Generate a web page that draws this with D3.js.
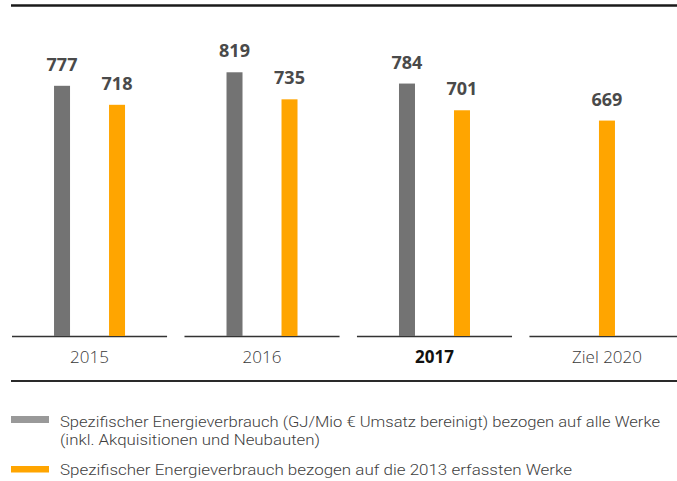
<!DOCTYPE html>
<html>
<head>
<meta charset="utf-8">
<title>Spezifischer Energieverbrauch</title>
<script src="https://cdn.jsdelivr.net/npm/d3@7"></script>
<style>
  body { margin: 0; background: #fff; }
  text { font-family: "Open Sans", "Noto Sans", sans-serif; }
  .legend text { font-family: Roboto, "Liberation Sans", sans-serif; }
</style>
</head>
<body>
<div id="chart"></div>
<script>

// data
var categories = ["2015", "2016", "2017", "Ziel 2020"];
var alleWerke = [777, 819, 784, null];   // grey series
var werke2013 = [718, 735, 701, 669];    // orange series
var legendGrey = [
  "Spezifischer Energieverbrauch (GJ/Mio € Umsatz bereinigt) bezogen auf alle Werke",
  "(inkl. Akquisitionen und Neubauten)"
];
var legendOrange = "Spezifischer Energieverbrauch bezogen auf die 2013 erfassten Werke";

var width = 677, height = 481;
var baseY = 336;

var svg = d3.select("#chart")
  .append("svg")
    .attr("width", width)
    .attr("height", height);

// x: one band per year, runs a bit past the right edge like the original
var x = d3.scaleBand()
  .domain(categories)
  .range([12, 684.5])
  .paddingInner(0.101)
  .paddingOuter(0);

var y = d3.scaleLinear()
  .domain([0, 1000])
  .range([baseY, 14]);

var barW = 16, offset = 27.5;

// top rule
svg.append("line")
  .attr("x1", 11).attr("x2", width)
  .attr("y1", 5.5).attr("y2", 5.5)
  .attr("stroke", "#1a1a1a").attr("stroke-width", 2.5);

// bottom rule
svg.append("line")
  .attr("x1", 11).attr("x2", width)
  .attr("y1", 381).attr("y2", 381)
  .attr("stroke", "#2a2a2a").attr("stroke-width", 2);

// baseline pieces, one per group
svg.append("g")
  .selectAll("line")
  .data(categories)
  .enter()
  .append("line")
    .attr("x1", function(d) { return x(d); })
    .attr("x2", function(d) { return x(d) + x.bandwidth(); })
    .attr("y1", baseY + 0.5).attr("y2", baseY + 0.5)
    .attr("stroke", "#333").attr("stroke-width", 1.6);

// build bar list
var bars = [];
categories.forEach(function(c, i) {
  var mid = x(c) + x.bandwidth() / 2;
  var both = alleWerke[i] != null;
  if (both) bars.push({cat: c, v: alleWerke[i], cx: mid - offset, color: "#737373"});
  bars.push({cat: c, v: werke2013[i], cx: both ? mid + offset : mid, color: "#ffa500"});
});

svg.append("g")
  .selectAll("rect")
  .data(bars)
  .enter()
  .append("rect")
    .attr("x", function(d) { return d.cx - barW / 2; })
    .attr("y", function(d) { return y(d.v); })
    .attr("width", barW)
    .attr("height", function(d) { return baseY - y(d.v); })
    .style("fill", function(d) { return d.color; });

// value labels
svg.append("g")
  .selectAll("text")
  .data(bars)
  .enter()
  .append("text")
    .attr("x", function(d) { return d.cx; })
    .attr("y", function(d) { return y(d.v) - 15; })
    .attr("text-anchor", "middle")
    .style("font-size", "18px")
    .style("font-weight", "700")
    .style("fill", "#4a4a4a")
    .text(function(d) { return d.v; });

// category labels
svg.append("g")
  .selectAll("text")
  .data(categories)
  .enter()
  .append("text")
    .attr("x", function(d) { return x(d) + x.bandwidth() / 2; })
    .attr("y", 363)
    .attr("text-anchor", "middle")
    .style("font-size", "17px")
    .style("font-weight", function(d) { return d == "2017" ? "700" : "300"; })
    .style("fill", function(d) { return d == "2017" ? "#111" : "#383838"; })
    .text(function(d) { return d; });

// legend
var legend = svg.append("g").attr("class", "legend");
legend.append("rect")
  .attr("x", 11).attr("y", 416).attr("width", 38).attr("height", 7)
  .style("fill", "#999");
legend.append("rect")
  .attr("x", 11).attr("y", 466).attr("width", 38).attr("height", 6.5)
  .style("fill", "#ffa500");

legend.selectAll("text.grey")
  .data(legendGrey)
  .enter()
  .append("text")
    .attr("class", "grey")
    .attr("x", 60)
    .attr("y", function(d, i) { return 427 + i * 18; })
    .attr("textLength", function(d, i) { return [600, 260][i]; })
    .attr("lengthAdjust", "spacingAndGlyphs")
    .style("font-size", "15px")
    .style("font-weight", "300")
    .style("fill", "#404040")
    .text(function(d) { return d; });

legend.append("text")
  .attr("x", 60)
  .attr("y", 475)
  .attr("textLength", 512)
  .attr("lengthAdjust", "spacingAndGlyphs")
  .style("font-size", "15px")
  .style("font-weight", "300")
  .style("fill", "#404040")
  .text(legendOrange);

</script>
</body>
</html>
